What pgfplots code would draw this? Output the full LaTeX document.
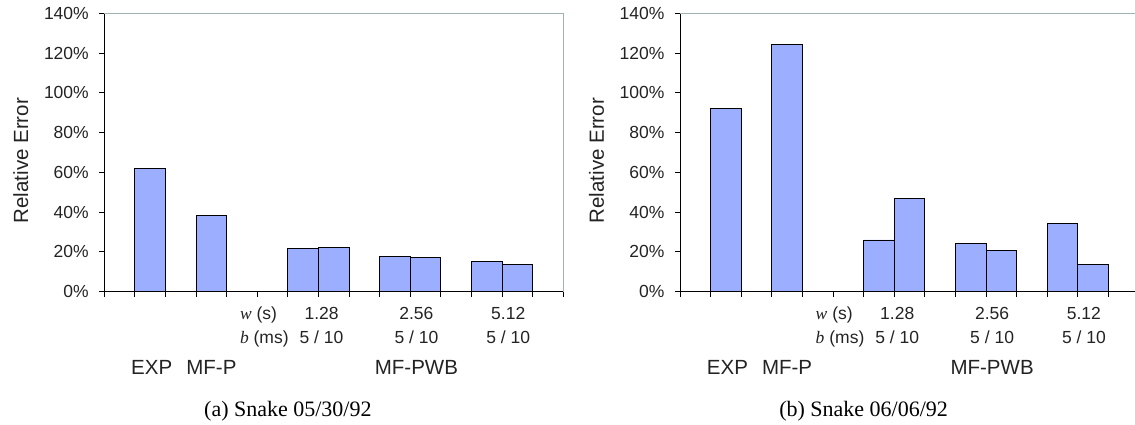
\documentclass[border=0pt]{standalone}
\usepackage{pgfplots}
\pgfplotsset{compat=1.18}
\usepackage{fontspec}
\setmainfont{Liberation Sans}
\newfontfamily\timesfont{Liberation Serif}

\definecolor{barblue}{RGB}{155,174,255}
\definecolor{framegray}{RGB}{160,178,178}
\definecolor{txt}{RGB}{35,35,35}

\newcommand\ticksize{\fontsize{17.5}{20}\selectfont}
\newcommand\labsize{\fontsize{20.5}{24}\selectfont}
\newcommand\capsize{\fontsize{22}{26}\selectfont}

\pgfplotsset{
  relerr/.style={
    scale only axis, width=459pt, height=278.4pt,
    anchor=south west,
    xmin=0, xmax=15, ymin=0, ymax=140,
    axis lines*=left,
    xtick={0,...,15}, xticklabels={},
    ytick={0,20,...,140},
    yticklabel={\pgfmathprintnumber{\tick}\%},
    /pgf/number format/assume math mode=true,
    tick align=outside, major tick length=5pt,
    tick style={black, line width=0.9pt},
    axis line style={black, line width=0.9pt},
    ticklabel style={font=\ticksize, text=txt},
    yticklabel style={xshift=-7pt},
    ybar, bar width=1, bar shift=0pt,
    clip=false,
  },
}

% text rows below the bars: w / b parameters, method names, caption
\newcommand\bottomrows[1]{%
  \draw[framegray, line width=0.9pt] (rel axis cs:0,1) -- (rel axis cs:1,1) -- (rel axis cs:1,0);
  \node[rotate=90, font=\labsize, text=txt] at ([xshift=-83.5pt]rel axis cs:0,0.471) {Relative Error};
  \node[anchor=base west, font=\ticksize, text=txt] at ([yshift=-28.3pt]axis cs:4.32,0) {{\timesfont\itshape w} (s)};
  \node[anchor=base west, font=\ticksize, text=txt] at ([yshift=-51.6pt]axis cs:4.32,0) {{\timesfont\itshape b} (ms)};
  \node[anchor=base, font=\ticksize, text=txt] at ([yshift=-28.3pt]axis cs:7.1,0) {1.28};
  \node[anchor=base, font=\ticksize, text=txt] at ([yshift=-28.3pt]axis cs:10.2,0) {2.56};
  \node[anchor=base, font=\ticksize, text=txt] at ([yshift=-28.3pt]axis cs:13.2,0) {5.12};
  \node[anchor=base, font=\ticksize, text=txt] at ([yshift=-51.6pt]axis cs:7.1,0) {5 / 10};
  \node[anchor=base, font=\ticksize, text=txt] at ([yshift=-51.6pt]axis cs:10.2,0) {5 / 10};
  \node[anchor=base, font=\ticksize, text=txt] at ([yshift=-51.6pt]axis cs:13.2,0) {5 / 10};
  \node[anchor=base, font=\labsize, text=txt] at ([yshift=-82.6pt]axis cs:1.55,0) {EXP};
  \node[anchor=base, font=\labsize, text=txt] at ([yshift=-82.6pt]axis cs:3.5,0) {MF-P};
  \node[anchor=base, font=\labsize, text=txt] at ([yshift=-82.6pt]axis cs:10.2,0) {MF-PWB};
  \node[anchor=base, font=\capsize, text=black] at ([yshift=-125.3pt]axis cs:6.0,0) {\timesfont #1};
}

\begin{document}
\begin{tikzpicture}
\useasboundingbox (0,0) rectangle (1135pt,425pt);

% (a) Snake 05/30/92
\begin{axis}[relerr, at={(104.3pt,133.3pt)}]
  \addplot[fill=barblue, draw=black, line width=0.9pt] coordinates {
    (1.5,62.1) (3.5,38.2)
    (6.5,21.8) (7.5,22.3)
    (9.5,17.6) (10.5,17.1)
    (12.5,15.4) (13.5,13.8)
  };
  \bottomrows{(a) Snake 05/30/92}
\end{axis}

% (b) Snake 06/06/92
\begin{axis}[relerr, at={(680pt,133.3pt)}]
  \addplot[fill=barblue, draw=black, line width=0.9pt] coordinates {
    (1.5,91.9) (3.5,124.4)
    (6.5,26.0) (7.5,46.8)
    (9.5,24.1) (10.5,20.8)
    (12.5,34.4) (13.5,13.9)
  };
  \bottomrows{(b) Snake 06/06/92}
\end{axis}
\end{tikzpicture}
\end{document}
